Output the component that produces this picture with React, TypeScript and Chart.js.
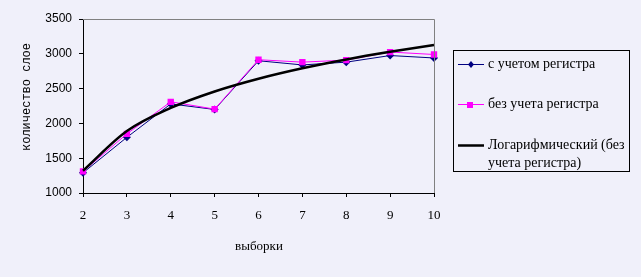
import React, { useEffect, useRef } from "react";
import { Chart, registerables } from "chart.js";

Chart.register(...registerables);

const categories = ["2", "3", "4", "5", "6", "7", "8", "9", "10"];
const withCase = [1290, 1800, 2280, 2200, 2900, 2840, 2880, 2975, 2940];
const withoutCase = [1310, 1850, 2310, 2205, 2915, 2880, 2910, 3025, 2990];
const logTrend = [1320, 1890, 2222, 2459, 2642, 2792, 2919, 3028, 3125];
const yTicks = [1000, 1500, 2000, 2500, 3000, 3500];

const seriesNames = ["с учетом регистра", "без учета регистра", "Логарифмический (без", "учета регистра)"];
const yTitle = "количество слое";
const xTitle = "выборки";

const BG = "#F0F0FA";
const NAVY = "#000080";
const PINK = "#FF00FF";

const decorPlugin = {
  id: "decor",
  beforeDraw(chart: any) {
    const ctx = chart.ctx;
    ctx.save();
    ctx.fillStyle = BG;
    ctx.fillRect(0, 0, chart.width, chart.height);
    ctx.restore();
  },
  afterDraw(chart: any) {
    const ctx = chart.ctx;
    const a = chart.chartArea;
    ctx.save();
    // top & right gray border
    ctx.strokeStyle = "#808080";
    ctx.lineWidth = 1;
    ctx.beginPath();
    ctx.moveTo(a.left, a.top + 0.5);
    ctx.lineTo(a.right + 0.5, a.top + 0.5);
    ctx.lineTo(a.right + 0.5, a.bottom);
    ctx.stroke();

    // y title
    ctx.fillStyle = "#000";
    ctx.font = "12px 'Liberation Mono', monospace";
    ctx.textAlign = "center";
    ctx.textBaseline = "middle";
    ctx.translate(27, 97);
    ctx.rotate(-Math.PI / 2);
    ctx.fillText(yTitle, 0, 0);
    ctx.setTransform(1, 0, 0, 1, 0, 0);

    // x title
    ctx.font = "13px 'Liberation Serif', serif";
    ctx.textAlign = "center";
    ctx.textBaseline = "middle";
    ctx.fillText(xTitle, 259, 247);

    // legend
    const lx = 453.5, ly = 50.5, lw = 176, lh = 121;
    ctx.strokeStyle = "#000";
    ctx.lineWidth = 1;
    ctx.strokeRect(lx, ly, lw, lh);
    ctx.font = "14px 'Liberation Serif', serif";
    ctx.textAlign = "left";
    ctx.textBaseline = "middle";
    const sx0 = 458, sx1 = 484, tx = 488;
    // entry 1
    let y = 64;
    ctx.strokeStyle = NAVY;
    ctx.beginPath(); ctx.moveTo(sx0, y + 0.5); ctx.lineTo(sx1, y + 0.5); ctx.stroke();
    ctx.fillStyle = NAVY;
    ctx.beginPath();
    ctx.moveTo(471, y - 3); ctx.lineTo(474, y + 0.5); ctx.lineTo(471, y + 4); ctx.lineTo(468, y + 0.5);
    ctx.closePath(); ctx.fill();
    ctx.fillStyle = "#000";
    ctx.fillText(seriesNames[0], tx, y);
    // entry 2
    y = 104;
    ctx.strokeStyle = PINK;
    ctx.beginPath(); ctx.moveTo(sx0, y + 0.5); ctx.lineTo(sx1, y + 0.5); ctx.stroke();
    ctx.fillStyle = PINK;
    ctx.fillRect(467, y - 2, 6, 6);
    ctx.fillStyle = "#000";
    ctx.fillText(seriesNames[1], tx, y);
    // entry 3
    y = 145;
    ctx.strokeStyle = "#000";
    ctx.lineWidth = 2.5;
    ctx.beginPath(); ctx.moveTo(sx0, y + 0.5); ctx.lineTo(sx1, y + 0.5); ctx.stroke();
    ctx.fillText(seriesNames[2], tx, y);
    ctx.fillText(seriesNames[3], tx, 163);
    ctx.restore();
  },
};

export default function App() {
  const ref = useRef<HTMLCanvasElement>(null);
  useEffect(() => {
    document.body.style.margin = "0";
    document.body.style.background = BG;
    const chart = new Chart(ref.current!, {
      type: "line",
      data: {
        labels: categories,
        datasets: [
          {
            label: seriesNames[0],
            data: withCase,
            borderColor: NAVY,
            backgroundColor: NAVY,
            borderWidth: 1,
            pointStyle: "rectRot",
            pointRadius: 4,
            pointBorderWidth: 0,
            order: 3,
          },
          {
            label: seriesNames[1],
            data: withoutCase,
            borderColor: PINK,
            backgroundColor: PINK,
            borderWidth: 1,
            pointStyle: "rect",
            pointRadius: 4.5,
            pointBorderWidth: 0,
            order: 2,
          },
          {
            label: seriesNames[2] + " " + seriesNames[3],
            data: logTrend,
            borderColor: "#000",
            backgroundColor: "#000",
            borderWidth: 2.5,
            pointRadius: 0,
            cubicInterpolationMode: "monotone",
            order: 1,
          },
        ],
      },
      options: {
        responsive: false,
        animation: false,
        devicePixelRatio: 1,
        layout: { padding: { top: 19, right: 207, left: 0, bottom: 0 } },
        plugins: { legend: { display: false }, tooltip: { enabled: false } },
        scales: {
          x: {
            type: "category",
            offset: false,
            grid: { drawOnChartArea: false, drawTicks: true, tickLength: 4, color: "#000" },
            border: { display: true, color: "#000", width: 1 },
            ticks: {
              color: "#000",
              font: { family: "'Liberation Serif', serif", size: 13 },
              padding: 11,
              maxRotation: 0,
              autoSkip: false,
            },
            afterFit: (s: any) => { s.height = 84; },
          },
          y: {
            min: yTicks[0],
            max: yTicks[yTicks.length - 1],
            afterBuildTicks: (s: any) => { s.ticks = yTicks.map((v) => ({ value: v })); },
            grid: { drawOnChartArea: false, drawTicks: true, tickLength: 4, color: "#000" },
            border: { display: true, color: "#000", width: 1 },
            ticks: {
              color: "#000",
              font: { family: "'Liberation Sans', sans-serif", size: 12 },
              padding: 7,
              callback: (v: any) => String(v),
            },
            afterFit: (s: any) => { s.width = 83; },
          },
        },
      },
      plugins: [decorPlugin],
    });
    return () => chart.destroy();
  }, []);
  return (
    <div style={{ position: "absolute", left: 0, top: 0, width: 641, height: 277, background: BG }}>
      <canvas ref={ref} width={641} height={277} style={{ width: 641, height: 277, display: "block" }} />
    </div>
  );
}
